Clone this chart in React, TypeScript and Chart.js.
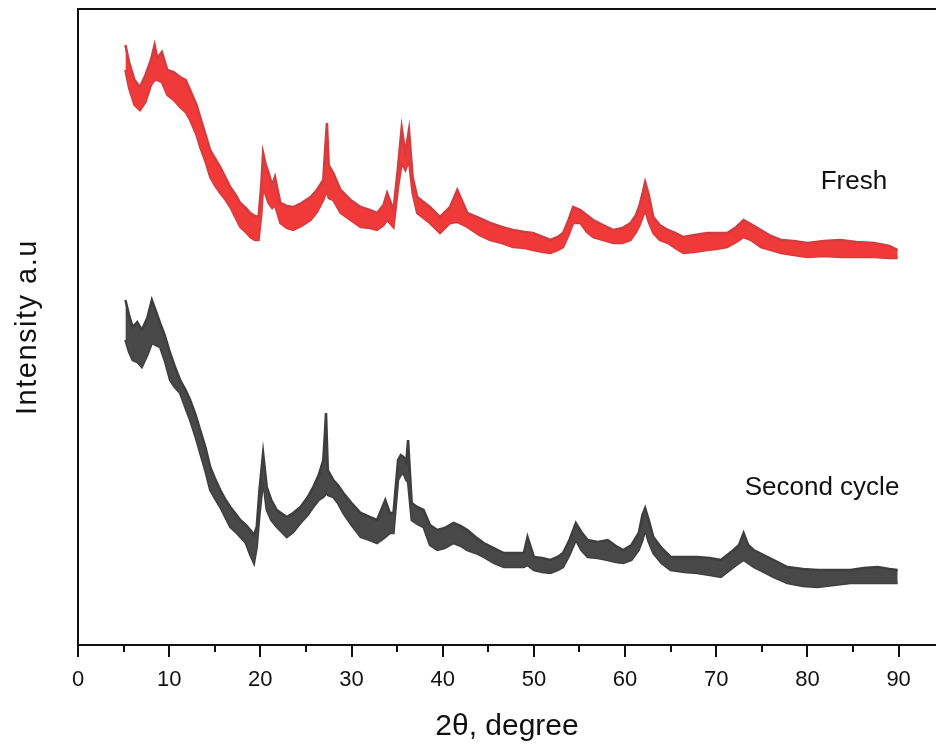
import React, { useEffect, useRef } from "react";
import { Chart, registerables } from "chart.js";

Chart.register(...registerables);

// ---- Data (2θ in degrees, intensity in arbitrary units; band = upper / lower envelope of the noisy trace)
const freshTheta = [
  5.2, 5.6, 6.2, 6.8, 7.4, 8.0, 8.4, 8.7, 9.2, 9.8,
  10.5, 11.2, 11.8, 12.3, 13.0, 13.4, 14.0, 14.5, 15.0, 15.6,
  16.2, 16.7, 17.3, 17.8, 18.4, 18.9, 19.4, 19.8, 20.1, 20.3,
  20.6, 20.9, 21.3, 21.6, 22.2, 22.9, 23.6, 24.5, 25.5, 26.2,
  26.9, 27.1, 27.3, 27.5, 28.0, 28.8, 29.9, 31.0, 32.0, 32.8,
  33.5, 33.9, 34.6, 35.1, 35.5, 35.9, 36.3, 36.7, 37.2, 38.6,
  39.7, 40.8, 41.6, 42.7, 44.0, 45.2, 46.5, 47.7, 49.0, 49.9,
  51.0, 51.8, 52.6, 53.2, 53.8, 54.3, 55.1, 55.8, 56.5, 57.6,
  58.7, 59.7, 60.6, 61.2, 61.6, 62.0, 62.2, 62.6, 63.1, 63.8,
  64.7, 65.5, 66.4, 67.6, 69.0, 70.0, 71.2, 72.2, 73.0, 73.8,
  74.9, 76.0, 77.1, 78.5, 80.0, 81.8, 83.6, 85.4, 87.3, 89.0,
  89.9,
];
const freshUpper = [
  600, 583, 565, 558, 570, 585, 600, 587, 593, 575,
  573, 568, 565, 555, 540, 528, 510, 495, 487, 478,
  467, 458, 450, 442, 437, 432, 429, 428, 460, 492,
  480, 472, 460, 468, 442, 439, 438, 442, 448, 455,
  465, 495, 522, 480, 472, 455, 445, 438, 435, 432,
  440, 452, 435, 478, 517, 492, 515, 468, 448, 438,
  428, 438, 455, 432, 427, 422, 418, 415, 413, 412,
  408, 405, 408, 412, 425, 438, 435, 430, 425, 420,
  415, 417, 422, 430, 440, 455, 463, 450, 428, 420,
  415, 412, 408, 410, 412, 412, 412, 418, 425, 421,
  415, 409, 405, 404, 402, 404, 405, 403, 402, 399,
  395,
];
const freshLower = [
  575, 557, 540, 535, 543, 560, 565, 565, 563, 550,
  545, 538, 533, 525, 510, 498, 483, 468, 460, 452,
  445, 438, 427, 418, 413, 408, 405, 405, 430, 458,
  450, 442, 437, 440, 422, 417, 415, 419, 425, 433,
  445, 450, 455, 447, 445, 432, 425, 418, 417, 415,
  420, 425, 418, 458, 482, 475, 485, 452, 432, 422,
  412, 422, 423, 418, 410, 405, 402, 398, 397, 395,
  393, 392, 395, 398, 410, 422, 422, 413, 408, 405,
  402, 402, 405, 413, 420, 430, 435, 423, 412, 405,
  402, 397, 392, 393, 395, 396, 398, 403, 408, 405,
  398, 395, 392, 390, 388, 389, 388, 388, 388, 387,
  387,
];

const secondTheta = [
  5.2, 5.6, 6.0, 6.5, 7.0, 7.6, 8.1, 8.5, 9.0, 9.5,
  10.1, 10.6, 11.2, 11.8, 12.3, 12.9, 13.4, 14.0, 14.5, 15.0,
  15.6, 16.2, 16.7, 17.3, 17.8, 18.4, 18.9, 19.3, 19.6, 19.9,
  20.3, 20.7, 21.2, 21.8, 22.9, 23.6, 24.4, 25.2, 25.8, 26.4,
  26.9, 27.1, 27.2, 27.4, 28.0, 28.5, 29.1, 30.0, 31.0, 32.0,
  32.8, 33.7, 34.2, 34.6, 35.1, 35.4, 35.7, 36.0, 36.2, 36.6,
  37.2, 37.9, 38.6, 39.4, 40.2, 41.2, 42.0, 42.7, 43.6, 44.5,
  45.6, 46.7, 47.8, 48.9, 49.3, 50.0, 50.9, 51.8, 52.6, 53.2,
  53.9, 54.6, 55.2, 55.9, 57.0, 58.1, 59.0, 59.8, 60.7, 61.5,
  61.9, 62.2, 62.6, 63.1, 64.0, 65.0, 66.5, 67.9, 69.3, 70.5,
  71.2, 71.9, 72.5, 73.0, 73.5, 74.1, 75.2, 76.3, 77.8, 79.5,
  81.1, 82.9, 84.7, 86.2, 87.7, 89.0, 89.9,
];
const secondUpper = [
  345, 330, 318, 323, 315, 327, 345, 335, 322, 310,
  292, 279, 265, 255, 245, 230, 215, 197, 178, 167,
  155, 145, 138, 131, 125, 120, 115, 110, 118, 155,
  192, 158, 145, 135, 128, 132, 138, 148, 158, 170,
  185, 215, 232, 175, 165, 160, 152, 142, 132, 128,
  125, 145, 132, 132, 185, 190, 188, 183, 205, 142,
  138, 135, 120, 115, 117, 122, 119, 115, 108, 102,
  97, 92, 92, 92, 108, 88, 87, 85, 88, 92,
  105, 122, 113, 105, 103, 105, 99, 95, 100, 112,
  130, 137, 125, 108, 97, 88, 88, 88, 87, 85,
  90, 95, 100, 112, 100, 95, 90, 85, 78, 76,
  75, 75, 75, 77, 78, 76, 75,
];
const secondLower = [
  305, 293, 285, 283, 278, 290, 302, 300, 298, 285,
  265, 258, 252, 237, 225, 208, 192, 173, 155, 147,
  138, 127, 118, 113, 108, 102, 90, 82, 98, 130,
  165, 135, 125, 118, 108, 113, 122, 130, 138, 145,
  148, 150, 155, 150, 148, 142, 132, 120, 108, 105,
  102, 108, 112, 112, 165, 170, 172, 165, 163, 125,
  121, 118, 100, 95, 97, 102, 99, 95, 92, 88,
  82, 78, 78, 78, 80, 75, 73, 72, 75, 78,
  90, 105, 95, 88, 87, 85, 83, 82, 85, 95,
  105, 115, 103, 92, 82, 75, 73, 72, 70, 68,
  73, 78, 82, 85, 82, 78, 73, 68, 62, 59,
  58, 60, 62, 62, 62, 62, 62,
];

const seriesNames = ["Fresh", "Second cycle"];
// label anchors in data units (2θ, intensity) — text baseline centre
const seriesLabelTheta = [85.1, 81.6];
const seriesLabelIntensity = [456, 150];

const xMin = 0;
const xMax = 94.1;
const yMin = 0;
const yMax = 636;
const xMajorStep = 10;
const xMinorStep = 5;
const xTitle = "2\u03b8, degree";
const yTitle = "Intensity a.u";

const RED_FILL = "rgb(240, 58, 58)";
const RED_EDGE = "rgb(212, 60, 64)";
const GREY_FILL = "rgb(72, 72, 72)";
const GREY_EDGE = "rgb(62, 62, 62)";
const FONT = '"Liberation Sans", Arial, sans-serif';

const toPoints = (xs: number[], ys: number[]) => xs.map((x, i) => ({ x, y: ys[i] }));

const decorPlugin = {
  id: "decor",
  afterDatasetsDraw(chart: any) {
    const { ctx, chartArea, scales } = chart;
    const xs = scales.x;
    const ys = scales.y;
    ctx.save();
    // frame
    ctx.strokeStyle = "#111";
    ctx.lineWidth = 2;
    ctx.beginPath();
    ctx.moveTo(chart.width, chartArea.top);
    ctx.lineTo(chartArea.left, chartArea.top);
    ctx.lineTo(chartArea.left, chartArea.bottom);
    ctx.lineTo(chart.width, chartArea.bottom);
    ctx.stroke();
    // tick marks (major + minor)
    for (let v = xMin; v <= 90 + 1e-9; v += xMinorStep) {
      const px = Math.round(xs.getPixelForValue(v));
      const major = Math.abs(v % xMajorStep) < 1e-9;
      ctx.beginPath();
      ctx.moveTo(px, chartArea.bottom);
      ctx.lineTo(px, chartArea.bottom + (major ? 12 : 7));
      ctx.stroke();
    }
    // y title
    ctx.fillStyle = "#111";
    ctx.font = `29px ${FONT}`;
    try { (ctx as any).letterSpacing = "1.5px"; } catch (e) {}
    ctx.textAlign = "center";
    ctx.textBaseline = "middle";
    ctx.translate(28, (chartArea.top + chartArea.bottom) / 2);
    ctx.rotate(-Math.PI / 2);
    ctx.fillText(yTitle, 0, 0);
    ctx.restore();
    // series labels
    ctx.save();
    ctx.fillStyle = "#111";
    ctx.font = `26px ${FONT}`;
    ctx.textAlign = "center";
    ctx.textBaseline = "alphabetic";
    seriesNames.forEach((name, i) => {
      ctx.fillText(
        name,
        xs.getPixelForValue(seriesLabelTheta[i]),
        ys.getPixelForValue(seriesLabelIntensity[i])
      );
    });
    ctx.restore();
  },
};

export default function App() {
  const ref = useRef<HTMLCanvasElement | null>(null);

  useEffect(() => {
    if (!ref.current) return;
    const bandStyle = (edge: string, fillColor: string, fill: any) => ({
      borderColor: edge,
      backgroundColor: fillColor,
      borderWidth: 2.5,
      pointRadius: 0,
      fill,
    });
    const chart = new Chart(ref.current, {
      type: "line",
      data: {
        datasets: [
          { label: seriesNames[0] + " upper", data: toPoints(freshTheta, freshUpper), ...bandStyle(RED_EDGE, RED_FILL, "+1") },
          { label: seriesNames[0] + " lower", data: toPoints(freshTheta, freshLower), ...bandStyle(RED_EDGE, RED_FILL, false) },
          { label: seriesNames[1] + " upper", data: toPoints(secondTheta, secondUpper), ...bandStyle(GREY_EDGE, GREY_FILL, "+1") },
          { label: seriesNames[1] + " lower", data: toPoints(secondTheta, secondLower), ...bandStyle(GREY_EDGE, GREY_FILL, false) },
        ],
      },
      options: {
        animation: false,
        responsive: false,
        devicePixelRatio: 1,
        layout: { padding: { left: 78, top: 9, right: 0, bottom: 4 } },
        plugins: { legend: { display: false }, tooltip: { enabled: false } },
        scales: {
          x: {
            type: "linear",
            min: xMin,
            max: xMax,
            afterFit: (scale: any) => {
              scale.height = 100;
            },
            grid: { display: false, drawTicks: false },
            border: { display: false },
            ticks: {
              stepSize: xMajorStep,
              includeBounds: false,
              autoSkip: false,
              maxRotation: 0,
              padding: 22,
              color: "#111",
              font: { family: FONT, size: 22 },
            },
            title: {
              display: true,
              text: xTitle,
              color: "#111",
              font: { family: FONT, size: 30 },
              padding: { top: 0, bottom: 0 },
            },
          },
          y: {
            display: false,
            min: yMin,
            max: yMax,
          },
        },
      },
      plugins: [decorPlugin],
    });
    return () => chart.destroy();
  }, []);

  return (
    <div style={{ position: "fixed", left: 0, top: 0, width: 936, height: 749, background: "#fff" }}>
      <canvas ref={ref} width={936} height={749} style={{ display: "block" }} />
    </div>
  );
}
